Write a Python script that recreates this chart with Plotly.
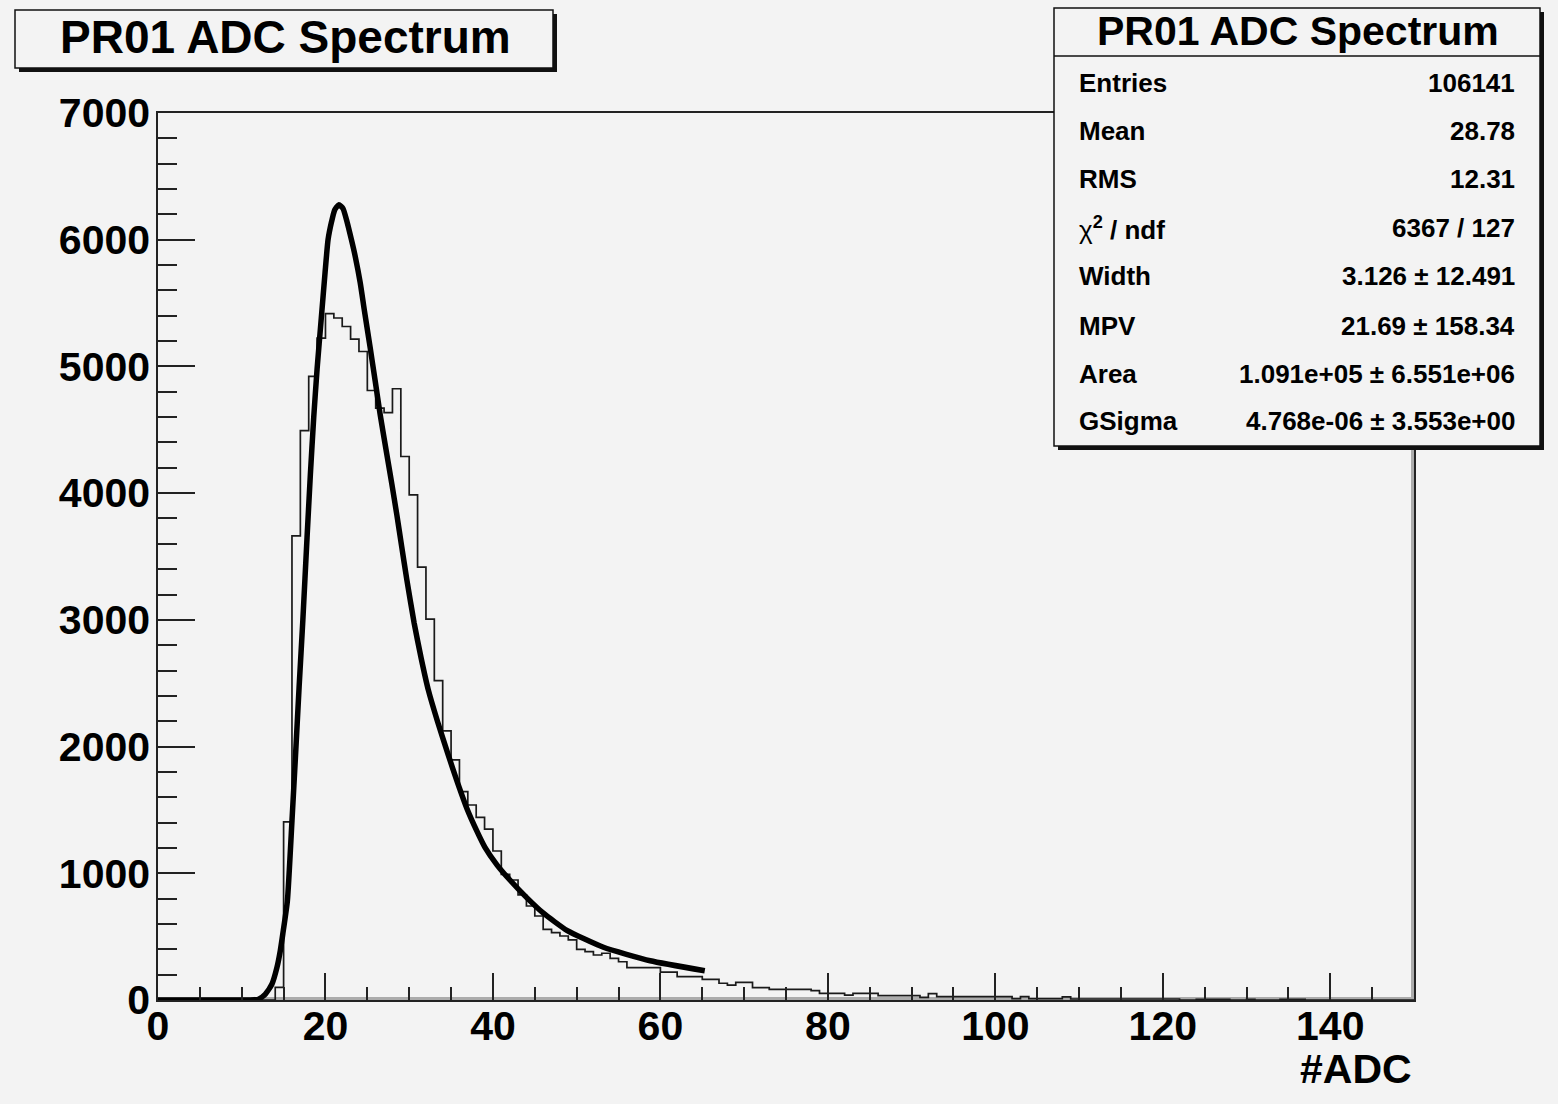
import plotly.graph_objects as go

# ---------------- data ----------------
bin_edges_lo = 0
bin_width = 1
counts = [
    0, 0, 0, 0, 0, 0, 0, 0, 0, 0,          # 0-9
    0, 0, 0, 0, 100, 1405, 3663, 4494, 4921, 5224,   # 10-19
    5416, 5382, 5315, 5216, 5118, 4810, 4671, 4636, 4824, 4289,  # 20-29
    3987, 3416, 3005, 2521, 2124, 1895, 1644, 1539, 1442, 1348,  # 30-39
    1176, 992, 947, 829, 742, 663, 558, 531, 505, 474,          # 40-49
    400, 381, 355, 369, 329, 302, 255, 255, 255, 255,           # 50-59
    220, 220, 184, 184, 184, 163, 163, 132, 118, 139,           # 60-69
    139, 97, 97, 84, 84, 84, 84, 84, 74, 53,                    # 70-79
    53, 53, 39, 53, 53, 53, 34, 34, 34, 34,                     # 80-89
    34, 21, 50, 26, 26, 26, 26, 26, 26, 26,                     # 90-99
    26, 26, 10, 26, 10, 10, 10, 10, 24, 8,                      # 100-109
    8, 8, 8, 8, 8, 8, 8, 8, 8, 8,                               # 110-119
    8, 8, 0, 0, 6, 6, 6, 6, 0, 0,                               # 120-129
    6, 0, 0, 0, 6, 6, 6, 0, 0, 0,                               # 130-139
    0, 0, 0, 0, 0, 0, 0, 0, 0, 0,                               # 140-149
]

fit_x = [0, 10, 11.5, 12.0, 12.8, 13.6, 14.2, 14.6, 14.9, 15.45, 16.0, 16.4,
         16.85, 17.3, 17.8, 18.2, 18.6, 19.0, 19.5, 19.95, 20.31, 20.72, 21.1,
         21.6, 22.1, 22.58, 23.1, 23.58, 24.15, 24.65, 25.33, 25.93, 26.52,
         27.24, 27.92, 28.52, 29.1, 29.71, 30.59, 31.42, 32.29, 33.42, 34.68,
         35.8, 36.9, 38.0, 39.05, 40.5, 42.05, 44.0, 46.03, 48.83, 53.2,
         58.78, 65.3]
fit_y = [0, 0, 2, 6, 45, 124, 255, 387, 519, 782, 1414, 1900,
         2467, 3000, 3650, 4150, 4600, 4980, 5380, 5740, 6000, 6140, 6235,
         6276, 6245, 6140, 6000, 5860, 5660, 5440, 5152, 4889, 4626,
         4340, 4075, 3830, 3580, 3320, 2975, 2700, 2445, 2190, 1930,
         1710, 1510, 1345, 1205, 1065, 945, 810, 685, 550, 416,
         310, 231]

title_text = "PR01 ADC Spectrum"
x_title = "#ADC"
stat_labels = ["Entries", "Mean", "RMS",
               "<span style='font-weight:normal'>χ</span><sup>2</sup> / ndf",
               "Width", "MPV", "Area", "GSigma"]
stat_values = ["106141", "28.78", "12.31", "6367 / 127",
               "3.126 ± 12.491", "21.69 ± 158.34",
               "1.091e+05 ± 6.551e+06", "4.768e-06 ± 3.553e+00"]

x_range = [0, 150]
y_range = [0, 7000]

# ---------------- layout helpers (pixel -> paper) ----------------
W, H = 1558, 1104
L, R, T, B = 158, 1414, 113, 1000


def px(x):
    return (x - L) / (R - L)


def py(y):
    return (B - y) / (B - T)


BG = "#f3f3f3"
INK = "#111111"
FONT = "Liberation Sans"

edges = [bin_edges_lo + i * bin_width for i in range(len(counts) + 1)]
hist_y = counts + [counts[-1]]

fig = go.Figure()
fig.add_trace(go.Scatter(
    x=edges, y=hist_y, mode="lines", line=dict(shape="hv", color="#1a1a1a", width=1.7),
    hoverinfo="skip", showlegend=False))
fig.add_trace(go.Scatter(
    x=fit_x, y=fit_y, mode="lines", line=dict(shape="spline", smoothing=0.5, color="#000000", width=5.5),
    hoverinfo="skip", showlegend=False))

shapes = []
# frame bevel (gray strips inside bottom and right)
shapes.append(dict(type="rect", xref="paper", yref="paper", x0=0, x1=1,
                   y0=py(1000), y1=py(997), fillcolor="#ababab", line=dict(width=0), layer="below"))
shapes.append(dict(type="rect", xref="paper", yref="paper", x0=px(1411), x1=px(1414),
                   y0=0, y1=1, fillcolor="#ababab", line=dict(width=0), layer="below"))
# title box with shadow
shapes.append(dict(type="rect", xref="paper", yref="paper", x0=px(19), x1=px(557),
                   y0=py(72), y1=py(14), fillcolor=INK, line=dict(width=0), layer="above"))
shapes.append(dict(type="rect", xref="paper", yref="paper", x0=px(15), x1=px(553),
                   y0=py(68), y1=py(10), fillcolor=BG, line=dict(color=INK, width=1.5), layer="above"))
# stats box with shadow
shapes.append(dict(type="rect", xref="paper", yref="paper", x0=px(1058), x1=px(1544),
                   y0=py(450), y1=py(12), fillcolor=INK, line=dict(width=0), layer="above"))
shapes.append(dict(type="rect", xref="paper", yref="paper", x0=px(1054), x1=px(1540),
                   y0=py(446), y1=py(8), fillcolor=BG, line=dict(color=INK, width=1.5), layer="above"))
shapes.append(dict(type="line", xref="paper", yref="paper", x0=px(1054), x1=px(1540),
                   y0=py(56), y1=py(56), line=dict(color=INK, width=1.5), layer="above"))

ann = []
ann.append(dict(text=title_text, xref="paper", yref="paper", x=px(285), y=py(37),
                xanchor="center", yanchor="middle", showarrow=False,
                font=dict(family=FONT, size=46, color="#000", weight="bold")))
ann.append(dict(text=title_text, xref="paper", yref="paper", x=px(1298), y=py(31),
                xanchor="center", yanchor="middle", showarrow=False,
                font=dict(family=FONT, size=41, color="#000", weight="bold")))
row_y = [83, 131, 179, 228, 276, 326, 374, 421]
for lab, val, yy in zip(stat_labels, stat_values, row_y):
    ann.append(dict(text=lab, xref="paper", yref="paper", x=px(1077), y=py(yy),
                    xanchor="left", yanchor="middle", showarrow=False,
                    font=dict(family=FONT, size=26, color="#000", weight="bold")))
    ann.append(dict(text=val, xref="paper", yref="paper", x=px(1517), y=py(yy),
                    xanchor="right", yanchor="middle", showarrow=False,
                    font=dict(family=FONT, size=26, color="#000", weight="bold")))
ann.append(dict(text=x_title, xref="paper", yref="paper", x=px(1414), y=py(1069),
                xanchor="right", yanchor="middle", showarrow=False,
                font=dict(family=FONT, size=41, color="#000", weight="bold")))

tickfont = dict(family=FONT, size=41, color="#000", weight="bold")

fig.update_layout(
    width=W, height=H,
    margin=dict(l=L, r=W - R, t=T, b=H - B, pad=0),
    paper_bgcolor=BG, plot_bgcolor=BG,
    shapes=shapes, annotations=ann,
    xaxis=dict(range=x_range, tick0=0, dtick=20, ticks="inside", ticklen=27, tickwidth=1.5,
               tickcolor="#222", showline=True, linecolor="#222", linewidth=1.5, mirror=True,
               showgrid=False, zeroline=False, tickfont=tickfont, ticklabelstandoff=-11,
               minor=dict(dtick=5, ticks="inside", ticklen=13, tickwidth=1.5, tickcolor="#222",
                          showgrid=False)),
    yaxis=dict(range=y_range, tick0=0, dtick=1000, ticks="inside", ticklen=37, tickwidth=1.5,
               tickcolor="#222", showline=True, linecolor="#222", linewidth=1.5, mirror=True,
               showgrid=False, zeroline=False, tickfont=tickfont, ticklabelstandoff=-2,
               minor=dict(dtick=200, ticks="inside", ticklen=19, tickwidth=1.5, tickcolor="#222",
                          showgrid=False)),
)

fig.write_html("out.html", post_script="document.body.style.margin='0';",
               config={"displayModeBar": False})
